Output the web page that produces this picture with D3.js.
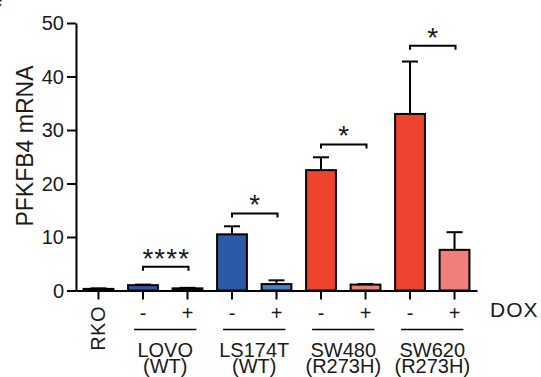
<!DOCTYPE html>
<html>
<head>
<meta charset="utf-8">
<script src="https://cdn.jsdelivr.net/npm/d3@7"></script>
<style>
  body { margin: 0; background: #fff; }
  text { font-family: "Liberation Sans", Arial, sans-serif; fill: #1a1a1a; }
</style>
</head>
<body>
<div id="chart"></div>
<script>
var categories = ["RKO", "LOVO-", "LOVO+", "LS174T-", "LS174T+", "SW480-", "SW480+", "SW620-", "SW620+"];
var doxLabels = ["", "-", "+", "-", "+", "-", "+", "-", "+"];
var means = [0.3, 1.0, 0.4, 10.5, 1.2, 22.5, 1.1, 33.0, 7.6];
var errors = [0.1, 0.1, 0.1, 1.5, 0.7, 2.4, 0.1, 9.8, 3.3];
var barColors = ["#2a5aa8", "#2a5aa8", "#2a5aa8", "#2a5aa8", "#3d86cc", "#ee432e", "#f27e7c", "#ee432e", "#f27e7c"];
var yTicks = [0, 10, 20, 30, 40, 50];

var groupNames = ["LOVO", "LS174T", "SW480", "SW620"];
var groupSubs = ["(WT)", "(WT)", "(R273H)", "(R273H)"];
var groupFirst = ["LOVO-", "LS174T-", "SW480-", "SW620-"];
var groupLast = ["LOVO+", "LS174T+", "SW480+", "SW620+"];

var sigLabels = ["****", "*", "*", "*"];
var sigLevels = [4.45, 14.4, 27.3, 45.75];

var width = 541, height = 377;

var svg = d3.select("#chart")
    .append("svg")
        .attr("width", width)
        .attr("height", height);

var x = d3.scaleBand()
    .domain(categories)
    .range([76, 477])
    .paddingInner(0.33)
    .paddingOuter(0.17);

var y = d3.scaleLinear()
    .domain([0, 50])
    .range([290.5, 23]);

// cut-off panel letter
svg.append("text")
    .attr("x", -12)
    .attr("y", 8)
    .style("font-size", "26px")
    .style("font-weight", "bold")
    .text("e");

// bars
svg.selectAll(".bar")
    .data(categories)
    .enter()
    .append("rect")
        .attr("class", "bar")
        .attr("x", function (d) {return x(d);})
        .attr("width", x.bandwidth())
        .attr("y", function (d, i) {return y(means[i]);})
        .attr("height", function (d, i) {return y(0) - y(means[i]);})
        .style("fill", function (d, i) {return barColors[i];})
        .style("stroke", "#000")
        .style("stroke-width", 2);

// error bars
var eb = svg.selectAll(".err")
    .data(categories)
    .enter()
    .append("g")
        .attr("class", "err")
        .style("stroke", "#000")
        .style("stroke-width", 2);
eb.append("line")
    .attr("x1", function (d) {return x(d) + x.bandwidth() / 2;})
    .attr("x2", function (d) {return x(d) + x.bandwidth() / 2;})
    .attr("y1", function (d, i) {return y(means[i]);})
    .attr("y2", function (d, i) {return y(means[i] + errors[i]);});
eb.append("line")
    .attr("x1", function (d) {return x(d) + x.bandwidth() / 2 - 8;})
    .attr("x2", function (d) {return x(d) + x.bandwidth() / 2 + 8;})
    .attr("y1", function (d, i) {return y(means[i] + errors[i]);})
    .attr("y2", function (d, i) {return y(means[i] + errors[i]);});

// axes
var yAxis = svg.append("g")
    .attr("transform", "translate(76,0)")
    .call(d3.axisLeft(y).tickValues(yTicks).tickSize(9).tickSizeOuter(0).tickPadding(3));
yAxis.selectAll("text").style("font-size", "20px").attr("dy", "0.34em");

var xAxis = svg.append("g")
    .attr("transform", "translate(0," + y(0) + ")")
    .call(d3.axisBottom(x).tickSize(9).tickSizeOuter(0).tickFormat(""));

svg.selectAll(".domain, .tick line")
    .style("stroke", "#000")
    .style("stroke-width", 2);

// RKO label (rotated)
svg.append("text")
    .attr("transform", "translate(" + (x("RKO") + x.bandwidth() / 2 + 7) + ",306) rotate(-90)")
    .attr("text-anchor", "end")
    .style("font-size", "20px")
    .style("letter-spacing", "0.5px")
    .text("RKO");

// DOX signs
svg.selectAll(".dox")
    .data(categories.slice(1))
    .enter()
    .append("text")
        .attr("class", "dox")
        .attr("x", function (d) {return x(d) + x.bandwidth() / 2;})
        .attr("y", 320)
        .attr("text-anchor", "middle")
        .style("font-size", "20px")
        .text(function (d, i) {return doxLabels[i + 1];});

svg.append("text")
    .attr("x", 490)
    .attr("y", 317)
    .style("font-size", "21px")
    .style("letter-spacing", "1px")
    .text("DOX");

// group underlines and names
groupNames.forEach(function (name, i) {
    var x1 = x(groupFirst[i]) + 6,
        x2 = x(groupLast[i]) + x.bandwidth() - 6,
        mid = (x1 + x2) / 2;
    svg.append("line")
        .attr("x1", x1).attr("x2", x2)
        .attr("y1", 329.5).attr("y2", 329.5)
        .style("stroke", "#000")
        .style("stroke-width", 1.5);
    svg.append("text")
        .attr("x", mid).attr("y", 357)
        .attr("text-anchor", "middle")
        .style("font-size", "20px")
        .text(name);
    svg.append("text")
        .attr("x", mid).attr("y", 373)
        .attr("text-anchor", "middle")
        .style("font-size", "20px")
        .text(groupSubs[i]);
});

// significance brackets
sigLabels.forEach(function (lab, i) {
    var x1 = x(groupFirst[i]) + x.bandwidth() / 2,
        x2 = x(groupLast[i]) + x.bandwidth() / 2 + 1,
        yy = y(sigLevels[i]);
    svg.append("path")
        .attr("d", "M" + x1 + "," + (yy + 4) + "V" + yy + "H" + x2 + "V" + (yy + 4))
        .style("fill", "none")
        .style("stroke", "#000")
        .style("stroke-width", 2);
    svg.append("text")
        .attr("x", (x1 + x2) / 2 + (lab.length > 1 ? 0.5 : 0))
        .attr("y", yy + 1)
        .attr("text-anchor", "middle")
        .style("font-size", "28px")
        .style("letter-spacing", lab.length > 1 ? "1px" : "0px")
        .text(lab);
});

// y label
svg.append("text")
    .attr("transform", "translate(33,146) rotate(-90)")
    .attr("text-anchor", "middle")
    .style("font-size", "23px")
    .text("PFKFB4 mRNA");
</script>
</body>
</html>
